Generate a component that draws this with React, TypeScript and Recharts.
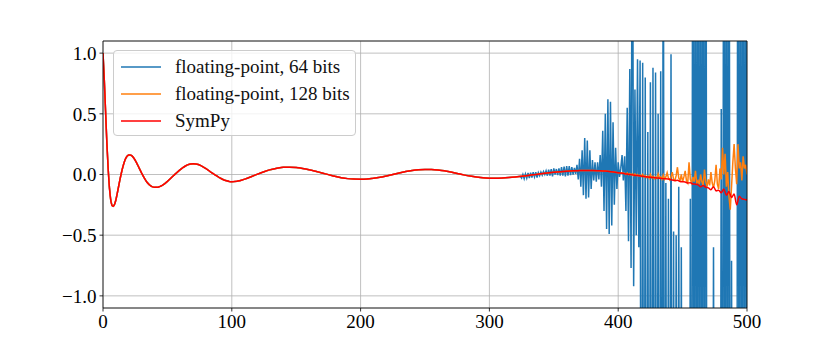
import React from 'react'
import {
  LineChart,
  Line,
  XAxis,
  YAxis,
  CartesianGrid,
  ReferenceLine,
} from 'recharts'

const xTicks = [0, 100, 200, 300, 400, 500]
const yTicks = [-1, -0.5, 0, 0.5, 1]

// SymPy (exact) result as [n, value]
const sympy: [number, number][] = [
  [0, 1.0], [1, 0.78], [2, 0.52], [3, 0.26], [4, 0.05], [5, -0.11], [6, -0.21],
  [7, -0.255], [8, -0.262], [9, -0.245], [10, -0.21], [11, -0.16], [12, -0.105],
  [13, -0.05], [14, 0.0], [15, 0.045], [16, 0.085], [17, 0.118], [18, 0.14],
  [19, 0.154], [20, 0.16], [21, 0.161], [22, 0.157], [23, 0.148], [24, 0.134],
  [26, 0.098], [28, 0.055], [30, 0.012], [32, -0.028], [34, -0.062], [36, -0.085],
  [38, -0.1], [40, -0.106], [42, -0.106], [44, -0.1], [46, -0.09], [48, -0.075],
  [50, -0.057], [52, -0.037], [54, -0.017], [56, 0.003], [58, 0.022], [60, 0.04],
  [62, 0.056], [64, 0.07], [66, 0.081], [68, 0.087], [70, 0.089], [72, 0.087],
  [74, 0.082], [76, 0.073], [78, 0.061], [80, 0.048], [82, 0.033], [84, 0.018],
  [86, 0.004], [88, -0.01], [90, -0.023], [92, -0.035], [94, -0.045], [96, -0.052],
  [98, -0.057], [100, -0.059], [102, -0.058], [104, -0.056], [106, -0.051],
  [108, -0.045], [110, -0.038], [115, -0.018], [120, 0.003], [125, 0.023],
  [130, 0.04], [135, 0.052], [140, 0.059], [145, 0.06], [150, 0.057], [155, 0.05],
  [160, 0.04], [165, 0.027], [170, 0.013], [175, -0.001], [180, -0.015],
  [185, -0.026], [190, -0.034], [195, -0.038], [200, -0.039], [205, -0.037],
  [210, -0.031], [215, -0.023], [220, -0.012], [225, 0.0], [230, 0.012],
  [235, 0.024], [240, 0.033], [245, 0.039], [250, 0.042], [255, 0.041],
  [260, 0.037], [265, 0.03], [270, 0.02], [275, 0.009], [280, -0.003],
  [285, -0.013], [290, -0.021], [295, -0.027], [300, -0.03], [305, -0.031],
  [310, -0.029], [315, -0.025], [320, -0.02], [325, -0.014], [330, -0.008],
  [335, -0.001], [340, 0.006], [345, 0.012], [350, 0.018], [355, 0.023],
  [360, 0.027], [365, 0.03], [370, 0.032], [375, 0.033], [380, 0.033],
  [385, 0.031], [390, 0.028], [395, 0.022], [400, 0.015], [405, 0.007],
  [410, -0.001], [415, -0.009], [420, -0.016], [425, -0.022], [430, -0.028],
  [435, -0.034], [440, -0.04], [442, -0.045], [444, -0.05], [446, -0.048],
  [448, -0.058], [450, -0.06], [452, -0.062], [454, -0.07], [456, -0.068],
  [458, -0.078], [460, -0.08], [462, -0.085], [464, -0.1], [466, -0.09],
  [468, -0.105], [470, -0.11], [472, -0.125], [474, -0.1], [476, -0.135],
  [478, -0.13], [480, -0.15], [482, -0.12], [484, -0.17], [486, -0.14],
  [488, -0.19], [490, -0.16], [492, -0.25], [494, -0.18], [496, -0.2],
  [498, -0.205], [500, -0.21],
]

// 64-bit floats: follow SymPy until n = 324, then one value per n
const float64Start = 324
const float64Tail = [
  -0.015, -0.03, 0.0, -0.035, 0.005, -0.03, 0.012, -0.03, 0.015, -0.025, 0.02,
  -0.02, 0.02, -0.025, 0.015, -0.01, 0.02, -0.005, 0.025, 0.0, 0.03, -0.01,
  0.04, -0.01, 0.045, -0.015, 0.05, 0.0, 0.045, -0.005, 0.05, -0.01, 0.06,
  -0.01, 0.065, -0.015, 0.07, -0.01, 0.07, -0.005, 0.06, 0.0, 0.055, 0.005,
  0.08, -0.04, 0.13, -0.1, 0.2, -0.17, 0.3, -0.2, 0.28, -0.19, 0.2, -0.12,
  0.12, -0.05, 0.1, -0.06, 0.1, -0.04, 0.16, -0.1,
  0.36, -0.3, 0.5, -0.45, 0.62, -0.49, 0.6, -0.42, 0.43, -0.25, 0.22, -0.12,
  0.1, -0.02, 0.05, 0.16, -0.05, 0.15, -0.3, 0.55,
  -0.55, 0.87, -0.77, 3, -0.92, 0.7, -0.5, 0.95, -0.6, 0.94, -5, 0.92, -5,
  0.8, -5, 0.35, -5, 0.76, -5, 0.88,
  -5, 0.84, -5, 0.5, -5, 0.85, -5, 3, -5, -0.07, -5, -0.2, -5, 0.99, -5,
  -0.47, -5, -0.5, -5, -0.1,
  -5, -0.6, -5, -5, -5, -5, -5, -5, -0.2, -5, 5, -5, 5, -5, 5, -5, 5, -5, 5, -5,
  5, -5, -5, -5, -5, -5, -0.6, -5, -5, -5, -5, -5, 0.54, -5, 5, -5, 5, -5, 5, -5,
  -0.71, -5, -5, -5, -5, 5, -5, 5, -5, 5, -5, 5, -5,
]

// 128-bit floats: follow SymPy until n = 405, then one value per n
const float128Start = 405
const float128Tail = [
  0.01, 0.0, 0.012, -0.002, 0.008, -0.004, 0.006, -0.008, 0.004, -0.01, 0.0,
  -0.012, -0.004, -0.016, 0.0,
  -0.02, -0.01, -0.025, -0.012, -0.03, 0.0, -0.028, -0.015, -0.035, -0.02,
  -0.032, 0.005, -0.03, -0.02, -0.04, -0.005, -0.04, -0.02, 0.015, -0.03,
  -0.045, -0.02, 0.02, -0.04, -0.05, -0.01, 0.06, -0.03, -0.05, 0.0, -0.06,
  -0.02, 0.03, -0.05, -0.07, 0.1, -0.04, -0.07, -0.02, -0.06,
  0.03, -0.07, -0.05, -0.08, 0.0, -0.06, -0.09, 0.04, -0.06, -0.1, -0.04,
  -0.09, 0.02, -0.07, -0.11, -0.05, 0.08, -0.08, -0.12, 0.05,
  -0.04, 0.22, 0.0, 0.17, -0.1, 0.02, -0.18, -0.29, -0.1, 0.1, 0.25, 0.05,
  -0.08, 0.25, 0.05, 0.1, -0.05, 0.15, 0.05, 0.08, 0.0,
]

const sympyData = sympy.map(([x, y]) => ({ x, y }))
const withTail = (start: number, tail: number[]) => [
  ...sympyData.filter((p) => p.x < start),
  ...tail.map((y, i) => ({ x: start + i, y })),
]
const float64Data = withTail(float64Start, float64Tail)
const float128Data = withTail(float128Start, float128Tail)

const series = [
  { name: 'floating-point, 64 bits', color: '#1f77b4' },
  { name: 'floating-point, 128 bits', color: '#ff7f0e' },
  { name: 'SymPy', color: '#ff0000' },
]

const font = '"Liberation Serif", "DejaVu Serif", serif'
const fontSize = 19

const fmtY = (v: number) =>
  v < 0 ? '\u2212' + Math.abs(v).toFixed(1) : v.toFixed(1)

function LegendBox() {
  return (
    <div
      style={{
        position: 'absolute',
        left: 113,
        top: 50,
        width: 243,
        height: 86,
        border: '1px solid #cccccc',
        borderRadius: 4,
        background: 'rgba(255,255,255,0.8)',
        boxSizing: 'border-box',
        fontFamily: font,
        fontSize: fontSize,
        color: '#111',
      }}
    >
      {series.map((s, i) => (
        <div
          key={s.name}
          style={{
            position: 'absolute',
            left: 7,
            top: 3 + i * 27,
            height: 26,
            display: 'flex',
            alignItems: 'center',
            whiteSpace: 'nowrap',
          }}
        >
          <svg width={40} height={4} style={{ marginRight: 14 }}>
            <line x1={0} y1={2} x2={40} y2={2} stroke={s.color} strokeWidth={1.5} />
          </svg>
          <span>{s.name}</span>
        </div>
      ))}
    </div>
  )
}

export default function App() {
  return (
    <div
      style={{
        position: 'absolute',
        left: 0,
        top: 0,
        width: 830,
        height: 346,
        background: '#fff',
      }}
    >
      <LineChart
        width={830}
        height={346}
        margin={{ top: 41, right: 83, bottom: 8, left: 43 }}
      >
        <CartesianGrid stroke="#b0b0b0" strokeWidth={0.8} />
        <XAxis
          dataKey="x"
          type="number"
          domain={[0, 500]}
          ticks={xTicks}
          allowDataOverflow
          height={30}
          tickSize={3.5}
          tickMargin={3}
          stroke="#000"
          strokeWidth={0.8}
          tick={{ fill: '#000', fontSize: fontSize, fontFamily: font }}
        />
        <YAxis
          type="number"
          domain={[-1.1, 1.1]}
          ticks={yTicks}
          allowDataOverflow
          width={60}
          tickSize={3.5}
          tickMargin={3}
          stroke="#000"
          strokeWidth={0.8}
          tickFormatter={fmtY}
          tick={{ fill: '#000', fontSize: fontSize, fontFamily: font }}
        />
        <Line
          data={float64Data}
          dataKey="y"
          type="linear"
          stroke={series[0].color}
          strokeWidth={1.5}
          dot={false}
          activeDot={false}
          isAnimationActive={false}
        />
        <Line
          data={float128Data}
          dataKey="y"
          type="linear"
          stroke={series[1].color}
          strokeWidth={1.5}
          dot={false}
          activeDot={false}
          isAnimationActive={false}
        />
        <Line
          data={sympyData}
          dataKey="y"
          type="monotone"
          stroke={series[2].color}
          strokeWidth={1.5}
          dot={false}
          activeDot={false}
          isAnimationActive={false}
        />
        <ReferenceLine y={1.1} stroke="#000" strokeWidth={0.8} />
        <ReferenceLine x={500} stroke="#000" strokeWidth={0.8} />
      </LineChart>
      <LegendBox />
    </div>
  )
}
